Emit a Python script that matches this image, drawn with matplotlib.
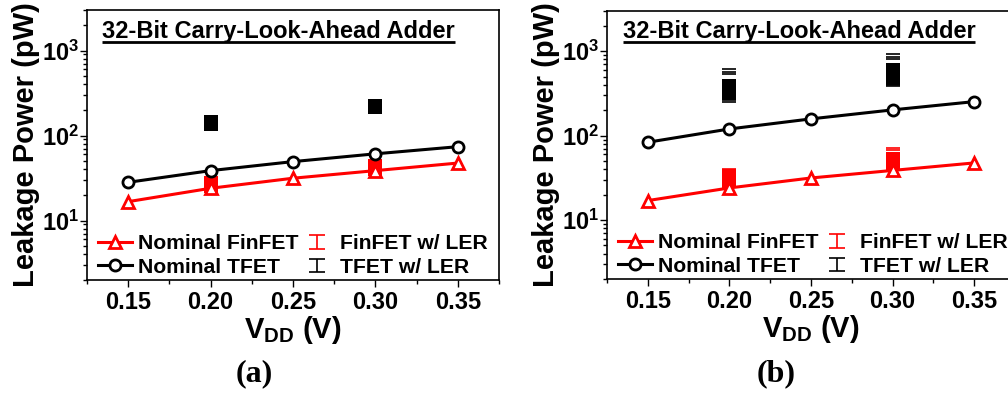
import numpy as np
import matplotlib
matplotlib.use('Agg')
import matplotlib.pyplot as plt
from matplotlib.legend_handler import HandlerErrorbar
from matplotlib.ticker import FixedLocator, FuncFormatter, LogLocator, NullFormatter

plt.rcParams['font.family'] = 'Liberation Sans'
plt.rcParams['font.weight'] = 'bold'
plt.rcParams['mathtext.fontset'] = 'custom'
plt.rcParams['mathtext.rm'] = 'Liberation Sans:bold'
plt.rcParams['mathtext.bf'] = 'Liberation Sans:bold'

# supply voltages (V)
vdd = [0.15, 0.20, 0.25, 0.30, 0.35]
vdd_ler = [0.20, 0.30]

# nominal leakage power (pW)
finfet_nom_a = [16.7, 24.0, 31.5, 38.7, 47.5]
tfet_nom_a = [28.2, 38.7, 49.4, 61.0, 74.0]
finfet_nom_b = [17.0, 24.0, 31.5, 38.7, 47.5]
tfet_nom_b = [83.5, 120.0, 158.0, 202.0, 253.0]

# LER samples, (a): squares only
finfet_ler_a = [[25.5, 26.5, 27.5], [40.5, 42.0, 43.5]]
tfet_ler_a = [[138, 141, 144], [215, 219, 223]]

# LER samples, (b): squares plus the spread of error caps
finfet_ler_b = [[29.0, 31.0, 33.0], [47.0, 50.0, 53.0]]
finfet_caps_b = [[40.5, 38.0, 26.5], [71.6, 67.0, 44.0]]
tfet_ler_b = [[320, 345, 365, 387], [481, 520, 560, 602]]
tfet_caps_b = [[609, 570, 532, 265, 253], [940, 857, 805, 395, 387]]


def underline_title(ax, fig, txt, x, y):
    t = ax.text(x, y, txt, transform=ax.transAxes, fontsize=17,
                fontweight='bold', ha='left', va='baseline')
    fig.canvas.draw()
    bb = t.get_window_extent().transformed(ax.transAxes.inverted())
    ax.plot([bb.x0, bb.x1], [y - 0.015, y - 0.015], color='black',
            lw=2.0, transform=ax.transAxes, clip_on=False, solid_capstyle='butt')


def draw_panel(ax, fig, finfet, tfet, fin_ler, tf_ler, fin_caps=None, tf_caps=None):
    ax.set_yscale('log')
    ax.set_xlim(0.125, 0.375)
    ax.set_ylim(2, 3000)

    # LER spread drawn first, nominal curves over them
    for i, x in enumerate(vdd_ler):
        if tf_caps is not None:
            ax.plot([x] * len(tf_caps[i]), tf_caps[i], ls='none', marker='_',
                    ms=10.5, mew=1.2, color='black')
            ax.plot([x] * len(fin_caps[i]), fin_caps[i], ls='none', marker='_',
                    ms=10.5, mew=1.2, color='red')
        ax.plot([x] * len(tf_ler[i]), tf_ler[i], ls='none', marker='s',
                ms=10, color='black', mew=0)
        ax.plot([x] * len(fin_ler[i]), fin_ler[i], ls='none', marker='s',
                ms=10, color='red', mew=0)

    l1, = ax.plot(vdd, finfet, color='red', lw=2.2, marker='^', ms=8,
                  mfc='white', mec='red', mew=2.0, label='Nominal FinFET')
    l2, = ax.plot(vdd, tfet, color='black', lw=2.2, marker='o', ms=8,
                  mfc='white', mec='black', mew=2.0, label='Nominal TFET')
    e1 = ax.errorbar([np.nan], [np.nan], yerr=[np.nan], fmt='none', ecolor='red',
                     elinewidth=1.2, capsize=6, capthick=1.2, label='FinFET w/ LER')
    e2 = ax.errorbar([np.nan], [np.nan], yerr=[np.nan], fmt='none', ecolor='black',
                     elinewidth=1.2, capsize=6, capthick=1.2, label='TFET w/ LER')

    hmap = {e1: HandlerErrorbar(yerr_size=0.32), e2: HandlerErrorbar(yerr_size=0.32)}
    ax.legend(handles=[l1, l2, e1, e2], handler_map=hmap, ncol=2, frameon=False,
              loc='lower left', bbox_to_anchor=(0.022, 0.004), handlelength=1.6,
              handletextpad=0.3, columnspacing=0.05, labelspacing=0.22,
              borderaxespad=0.0, borderpad=0.1, prop={'weight': 'bold', 'size': 15.2})

    ax.xaxis.set_major_locator(FixedLocator([0.15, 0.20, 0.25, 0.30, 0.35]))
    ax.xaxis.set_minor_locator(FixedLocator([0.125, 0.175, 0.225, 0.275, 0.325, 0.375]))
    ax.xaxis.set_major_formatter(FuncFormatter(lambda v, p: '%.2f' % v))
    ax.yaxis.set_major_locator(LogLocator(base=10, numticks=10))
    ax.yaxis.set_minor_locator(LogLocator(base=10, subs=np.arange(2, 10), numticks=10))
    ax.yaxis.set_major_formatter(FuncFormatter(lambda v, p: r'$\mathbf{10^{%d}}$' % round(np.log10(v))))
    ax.yaxis.set_minor_formatter(NullFormatter())
    ax.tick_params(axis='both', which='major', direction='out', length=5, width=1,
                   labelsize=17, pad=3)
    ax.tick_params(axis='both', which='minor', direction='out', length=3, width=1)
    ax.tick_params(axis='y', which='major', labelsize=17, pad=1)
    for s in ax.spines.values():
        s.set_linewidth(1.2)

    ax.set_xlabel(r'V$_{\mathbf{DD}}$ (V)', fontsize=21, fontweight='bold', labelpad=0)
    ax.set_ylabel('Leakage Power (pW)', fontsize=21, fontweight='bold', labelpad=1)


fig = plt.figure(figsize=(10.08, 3.96), dpi=100)
ax_a = fig.add_axes([87 / 1008, 1 - 280 / 396, 412 / 1008, 270 / 396])
ax_b = fig.add_axes([607 / 1008, 1 - 279 / 396, 408 / 1008, 268 / 396])

draw_panel(ax_a, fig, finfet_nom_a, tfet_nom_a, finfet_ler_a, tfet_ler_a)
draw_panel(ax_b, fig, finfet_nom_b, tfet_nom_b, finfet_ler_b, tfet_ler_b,
           finfet_caps_b, tfet_caps_b)
underline_title(ax_a, fig, '32-Bit Carry-Look-Ahead Adder', 0.036, 0.896)
underline_title(ax_b, fig, '32-Bit Carry-Look-Ahead Adder', 0.038, 0.90)

fig.text(254 / 1008, 1 - 374 / 396, '(a)', family='Liberation Serif',
         fontsize=23, fontweight='bold', ha='center', va='center')
fig.text(776 / 1008, 1 - 374 / 396, '(b)', family='Liberation Serif',
         fontsize=23, fontweight='bold', ha='center', va='center')

fig.savefig('out.png', dpi=100)
